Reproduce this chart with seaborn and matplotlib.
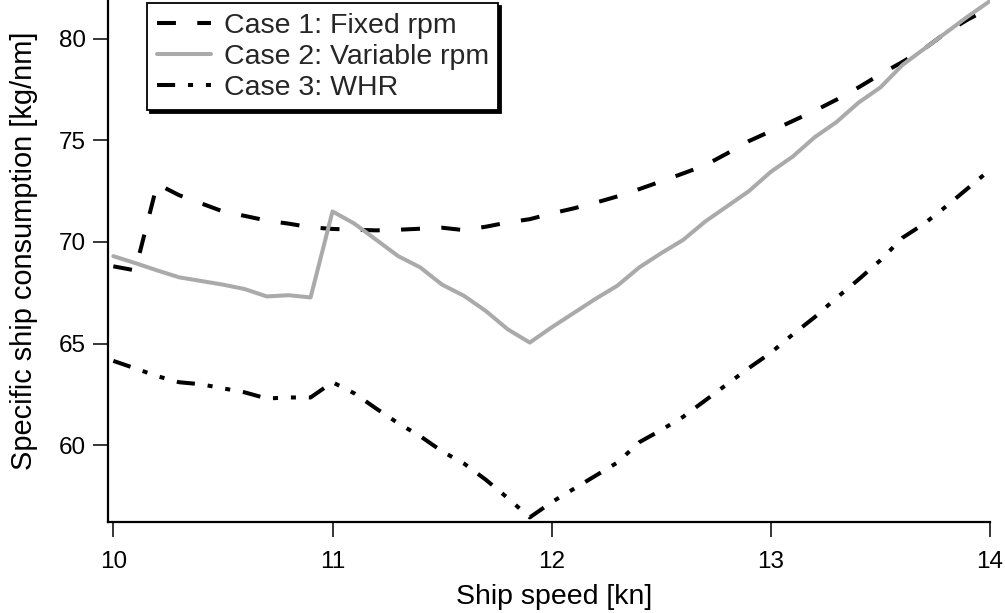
import matplotlib
matplotlib.use("Agg")
import matplotlib.pyplot as plt
import seaborn as sns
import pandas as pd

speeds = [10.0, 10.1, 10.2, 10.3, 10.4, 10.5, 10.6, 10.7, 10.8, 10.9,
          11.0, 11.1, 11.2, 11.3, 11.4, 11.5, 11.6, 11.7, 11.8, 11.9,
          12.0, 12.1, 12.2, 12.3, 12.4, 12.5, 12.6, 12.7, 12.8, 12.9,
          13.0, 13.1, 13.2, 13.3, 13.4, 13.5, 13.6, 13.7, 13.8, 13.9, 14.0]

case1_fixed = [68.8, 68.6, 72.85, 72.3, 71.9, 71.5, 71.28, 71.05, 70.9, 70.72,
               70.64, 70.6, 70.57, 70.6, 70.65, 70.7, 70.58, 70.75, 70.96, 71.12,
               71.4, 71.65, 71.93, 72.24, 72.6, 72.98, 73.37, 73.77, 74.35, 74.96,
               75.45, 75.95, 76.45, 77.0, 77.6, 78.25, 78.85, 79.5, 80.3, 80.95, 81.5]

case2_variable = [69.3, 68.96, 68.6, 68.26, 68.08, 67.9, 67.68, 67.32, 67.38, 67.27,
                  71.5, 70.9, 70.1, 69.3, 68.75, 67.9, 67.35, 66.6, 65.7, 65.05,
                  65.8, 66.5, 67.2, 67.85, 68.75, 69.45, 70.1, 71.0, 71.75, 72.5,
                  73.45, 74.2, 75.15, 75.9, 76.85, 77.6, 78.7, 79.5, 80.3, 81.1, 81.85]

case3_whr = [64.15, 63.78, 63.4, 63.1, 63.0, 62.8, 62.6, 62.3, 62.35, 62.35,
             63.1, 62.55, 61.8, 61.08, 60.45, 59.7, 59.1, 58.3, 57.4, 56.45,
             57.2, 57.85, 58.5, 59.15, 60.15, 60.75, 61.4, 62.2, 63.0, 63.8,
             64.55, 65.45, 66.3, 67.25, 68.15, 69.1, 70.2, 70.9, 71.75, 72.65, 73.55]

labels = ["Case 1: Fixed rpm", "Case 2: Variable rpm", "Case 3: WHR"]
x_ticks = [10, 11, 12, 13, 14]
y_ticks = [60, 65, 70, 75, 80]

sns.set_style("ticks")
plt.rcParams["font.family"] = ["Liberation Sans", "DejaVu Sans"]

fig = plt.figure(figsize=(10.05, 6.13), dpi=100)
ax = fig.add_axes([108.3 / 1005, 1 - 521.7 / 613, (990 - 108.3) / 1005, 521.7 / 613])

df1 = pd.DataFrame({"speed": speeds, "val": case1_fixed})
df2 = pd.DataFrame({"speed": speeds, "val": case2_variable})
df3 = pd.DataFrame({"speed": speeds, "val": case3_whr})

lw = 2.9
sns.lineplot(data=df1, x="speed", y="val", ax=ax, color="black", linewidth=lw,
             linestyle=(0, (4.7, 5.3)), label=labels[0], errorbar=None)
sns.lineplot(data=df2, x="speed", y="val", ax=ax, color="#aaaaaa", linewidth=lw,
             linestyle="-", label=labels[1], errorbar=None)
sns.lineplot(data=df3, x="speed", y="val", ax=ax, color="black", linewidth=lw,
             linestyle=(0, (4.5, 3.2, 1.25, 3.2, 1.25, 3.2)), label=labels[2], errorbar=None)

ax.set_xlim(9.977, 14.0)
ax.set_ylim(56.24, 81.9)
ax.set_xticks(x_ticks)
ax.set_yticks(y_ticks)
ax.set_xticklabels([str(v) for v in x_ticks])
ax.set_yticklabels([str(v) for v in y_ticks])

for side in ["top", "right"]:
    ax.spines[side].set_visible(False)
for side in ["left", "bottom"]:
    ax.spines[side].set_linewidth(1.6)
    ax.spines[side].set_color("black")

tick_fs = 17.5
ax.tick_params(axis="both", which="major", direction="out", length=10.8, width=1.1,
               color="black", labelsize=tick_fs, labelcolor="black")
ax.tick_params(axis="x", pad=10.3)
ax.tick_params(axis="y", pad=5.3)

ax.set_xlabel("Ship speed [kn]", fontsize=20.5, color="black")
ax.set_ylabel("Specific ship consumption [kg/nm]", fontsize=20.9, color="black")
ax.xaxis.set_label_coords(0.506, -0.119)
ax.yaxis.set_label_coords(-0.080, 0.519)

leg = ax.legend(loc="upper left", bbox_to_anchor=(147 / 1005, 1 - 3.3 / 613),
                bbox_transform=fig.transFigure, borderaxespad=0,
                fontsize=20.5, frameon=True, fancybox=False, framealpha=1,
                edgecolor="black", shadow={"color": "black", "alpha": 1},
                handlelength=1.9, handletextpad=0.45, labelspacing=0.17,
                borderpad=0.34)
leg.get_frame().set_linewidth(1.3)

fig.savefig("out.png", dpi=100)
